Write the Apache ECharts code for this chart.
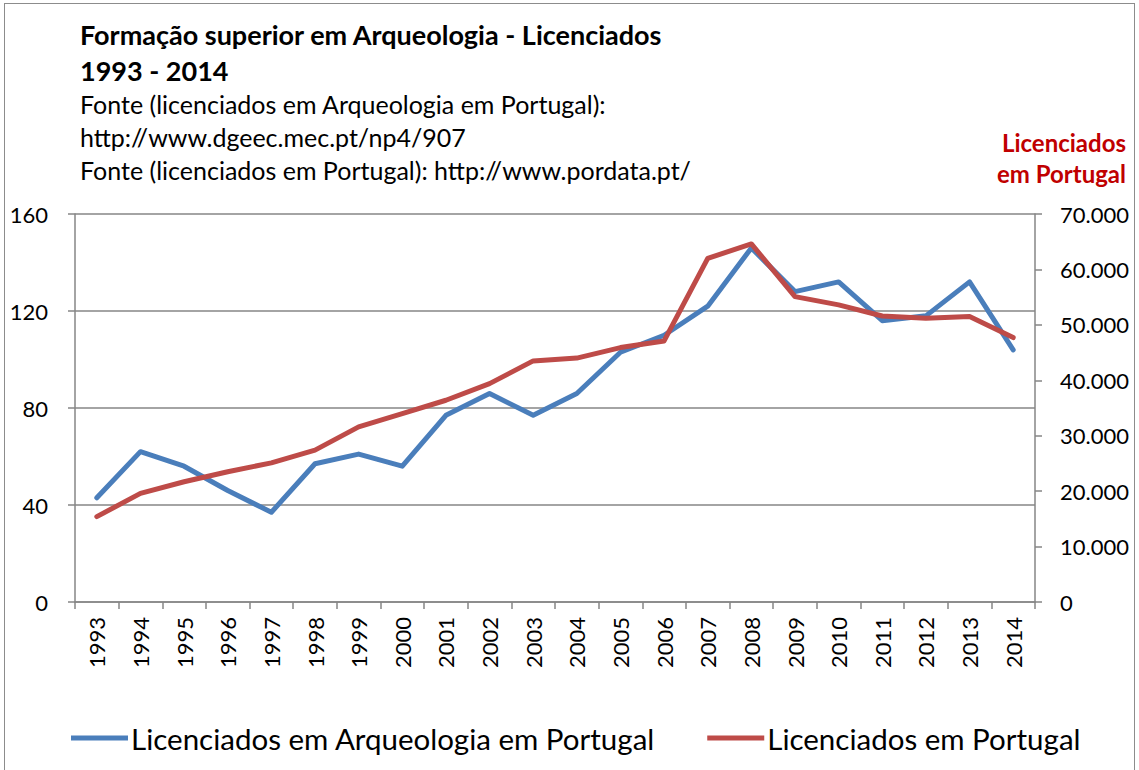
<!DOCTYPE html>
<html lang="pt">
<head>
<meta charset="UTF-8">
<title>Formação superior em Arqueologia - Licenciados</title>
<style>
    html, body { margin: 0; padding: 0; background: #fff; }
    #frame {
        position: absolute; left: 4px; top: 3px; width: 1131px; height: 790px;
        border: 1px solid #8c8c8c; box-sizing: border-box;
    }
    #chartmain { position: absolute; left: 0; top: 0; width: 1139px; height: 770px; }
</style>
</head>
<body>
<div id="frame"></div>
<div id="chartmain"></div>
<script src="https://cdn.jsdelivr.net/npm/echarts@6/dist/echarts.min.js"></script>
<script type="text/javascript">
    var years = ['1993', '1994', '1995', '1996', '1997', '1998', '1999', '2000', '2001', '2002', '2003',
        '2004', '2005', '2006', '2007', '2008', '2009', '2010', '2011', '2012', '2013', '2014'];
    // licenciados em Arqueologia (eixo esquerdo)
    var arqueologia = [43, 62, 56, 46, 37, 57, 61, 56, 77, 86, 77, 86, 103, 110, 122, 146, 128, 132, 116, 118, 132, 104];
    // licenciados em Portugal (eixo direito)
    var portugal = [15400, 19600, 21700, 23500, 25100, 27400, 31600, 34000, 36400, 39400, 43500,
        44000, 45900, 47100, 62000, 64600, 55100, 53600, 51600, 51200, 51500, 47700];
    var leftTicks = [0, 40, 80, 120, 160];
    var rightTicks = [0, 10000, 20000, 30000, 40000, 50000, 60000, 70000];
    var seriesNames = ['Licenciados em Arqueologia em Portugal', 'Licenciados em Portugal'];
    var titleLines = ['Formação superior em Arqueologia - Licenciados', '1993 - 2014'];
    var sourceLines = ['Fonte (licenciados em Arqueologia em Portugal):', 'http://www.dgeec.mec.pt/np4/907',
        'Fonte (licenciados em Portugal): http://www.pordata.pt/'];
    var rightAxisTitle = ['Licenciados', 'em Portugal'];

    var font = 'Lato, "Open Sans", sans-serif';
    var gray = '#868686';

    var fmtPt = function (v) {
        return String(v).replace(/\B(?=(\d{3})+(?!\d))/g, '.');
    };

    // textos do cabeçalho
    var headerY = [34, 70, 104, 137, 170];
    var graphics = [];
    titleLines.forEach(function (t, i) {
        graphics.push({
            type: 'text', x: 80, y: headerY[i],
            style: { text: t, fontFamily: font, fontSize: 27, fontWeight: 'bold', fill: '#000', verticalAlign: 'middle' }
        });
    });
    sourceLines.forEach(function (t, i) {
        graphics.push({
            type: 'text', x: 80, y: headerY[i + 2],
            style: { text: t, fontFamily: font, fontSize: 25, fill: '#000', verticalAlign: 'middle' }
        });
    });
    rightAxisTitle.forEach(function (t, i) {
        graphics.push({
            type: 'text', x: 1126, y: 142 + i * 31,
            style: { text: t, fontFamily: font, fontSize: 24, fontWeight: 'bold', fill: '#C00000', align: 'right', verticalAlign: 'middle' }
        });
    });

    var mychart = echarts.init(document.getElementById('chartmain'), null, { renderer: 'svg' });
    var option = {
        animation: false,
        textStyle: { fontFamily: font },
        graphic: graphics,
        legend: {
            top: 718,
            left: 66,
            itemGap: 52,
            itemWidth: 57,
            itemHeight: 5,
            icon: 'rect',
            textStyle: { fontFamily: font, fontSize: 29.5, color: '#000', padding: [0, 0, 0, -2] },
            data: seriesNames
        },
        grid: { left: 75, right: 104, top: 214, bottom: 168, containLabel: false },
        xAxis: {
            type: 'category',
            data: years,
            boundaryGap: true,
            axisLine: { lineStyle: { color: gray, width: 1.5 } },
            axisTick: { show: true, length: 7, lineStyle: { color: gray, width: 1.5 } },
            axisLabel: { rotate: 90, fontSize: 22, color: '#000', margin: 15, fontFamily: font, interval: 0 },
            splitLine: { show: false }
        },
        yAxis: [{
            type: 'value',
            min: leftTicks[0], max: leftTicks[leftTicks.length - 1], interval: 40,
            axisLine: { show: true, lineStyle: { color: gray, width: 1.5 } },
            axisTick: { show: true, length: 7, lineStyle: { color: gray, width: 1.5 } },
            axisLabel: { fontSize: 22, color: '#000', margin: 27, fontFamily: font },
            splitLine: { show: true, lineStyle: { color: gray, width: 1.5 } }
        }, {
            type: 'value',
            min: rightTicks[0], max: rightTicks[rightTicks.length - 1], interval: 10000,
            axisLine: { show: true, lineStyle: { color: gray, width: 1.5 } },
            axisTick: { show: true, length: 7, lineStyle: { color: gray, width: 1.5 } },
            axisLabel: { fontSize: 22, color: '#000', margin: 25, fontFamily: font, formatter: fmtPt },
            splitLine: { show: false }
        }],
        series: [{
            name: seriesNames[0],
            type: 'line',
            yAxisIndex: 0,
            data: arqueologia,
            symbol: 'none',
            color: '#4A7EBB',
            lineStyle: { width: 5, color: '#4A7EBB', cap: 'round', join: 'round' }
        }, {
            name: seriesNames[1],
            type: 'line',
            yAxisIndex: 1,
            data: portugal,
            symbol: 'none',
            color: '#BE4B48',
            lineStyle: { width: 5, color: '#BE4B48', cap: 'round', join: 'round' }
        }]
    };
    mychart.setOption(option, true);
</script>
</body>
</html>
